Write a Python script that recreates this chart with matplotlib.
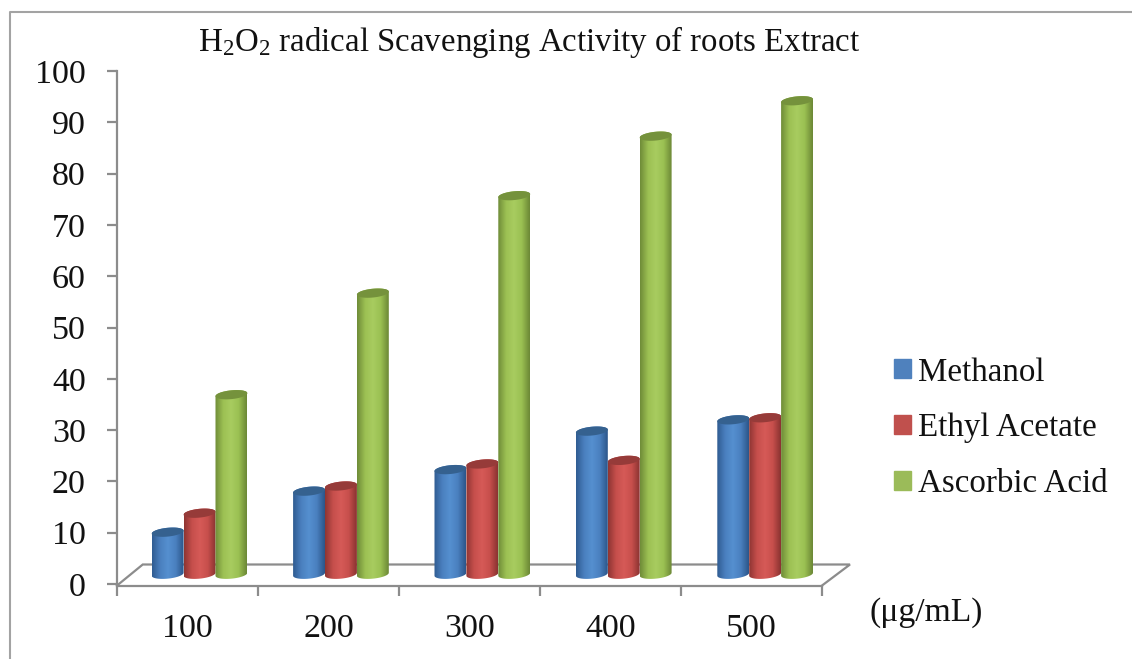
import numpy as np
import matplotlib
matplotlib.use("Agg")
import matplotlib.pyplot as plt
from matplotlib.lines import Line2D
from matplotlib.patches import PathPatch, Patch
from matplotlib.path import Path
from matplotlib.colors import LinearSegmentedColormap

categories = ["100", "200", "300", "400", "500"]
methanol = [8.2, 16.2, 20.4, 27.9, 30.1]
ethyl_acetate = [11.9, 17.2, 21.5, 22.2, 30.5]
ascorbic_acid = [35.0, 54.8, 73.8, 85.4, 92.3]
series_names = ["Methanol", "Ethyl Acetate", "Ascorbic Acid"]
y_ticks = list(range(0, 101, 10))

plt.rcParams["font.family"] = ["Liberation Serif", "DejaVu Sans"]
plt.rcParams["mathtext.fontset"] = "custom"
plt.rcParams["mathtext.rm"] = "Liberation Serif"
plt.rcParams["mathtext.default"] = "regular"

W, H = 1132, 659
fig = plt.figure(figsize=(W / 100, H / 100), dpi=100, facecolor="white")
ax = fig.add_axes([117 / W, 1 - 584 / H, 705 / W, 513 / H])
ax.set_xlim(0, 5)
ax.set_ylim(0, 100)
PX = 5 / 705      # data x per pixel
PY = 100 / 513    # data y per pixel

GREY = "#8c8c8c"
styles = [
    ("#4f81bd", ["#2f5c92", "#4a7fbe", "#5590d0", "#4a80bf", "#2c568a"], "#35618f"),
    ("#c0504d", ["#8f3533", "#c64f4c", "#d65a57", "#c74f4c", "#8a3331"], "#963b39"),
    ("#9bbb59", ["#6f8c38", "#9cc053", "#a8cc60", "#9ac052", "#6c8836"], "#75923c"),
]

# floor and axes
for s in ("top", "right"):
    ax.spines[s].set_visible(False)
for s in ("left", "bottom"):
    ax.spines[s].set_color(GREY)
    ax.spines[s].set_linewidth(1.6)
ax.spines["bottom"].set_position(("outward", 1.5))
ax.set_yticks(y_ticks)
ax.set_xticks(range(6))
ax.set_xticklabels([])
ax.set_xticks(np.arange(len(categories)) + 0.5, categories, minor=True)
ax.tick_params(axis="x", which="major", length=7.5, width=1.6, color=GREY)
ax.tick_params(axis="x", which="minor", length=0, pad=19.5, labelsize=24.5, labelcolor="#111111")
ax.tick_params(axis="y", length=7.5, width=1.6, color=GREY, pad=15, labelsize=24.5, labelcolor="#111111")

back_dx, back_dy = 28 * PX, 19.5 * PY
ax.plot([0, back_dx * 0.92, 5 + back_dx, 5], [-0.3, back_dy, back_dy, -0.3],
        color=GREY, lw=1.6, clip_on=False, zorder=1, solid_joinstyle="miter")

# bars
bar_w = 31.9 * PX
start = (151.7 - 117) * PX
a = bar_w / 2
b = 4.4 * PY
tilt = 1.5 * PY
base = 1.9
t = np.linspace(0, np.pi, 40)


def cylinder(cx, top):
    xs_bottom = cx - a * np.cos(t)
    ys_bottom = base - b * np.sin(t) - tilt * np.cos(t)
    xs_top = cx + a * np.cos(t)
    ys_top = top + b * np.sin(t) + tilt * np.cos(t)
    return np.r_[xs_bottom, xs_top], np.r_[ys_bottom, ys_top]


cols = [methanol, ethyl_acetate, ascorbic_acid]
z = 3
for i in range(len(categories)):
    for j, vals in enumerate(cols):
        left = i * (141.4 / 141) + start + j * bar_w
        cx = left + a
        top = base + vals[i]
        xs, ys = cylinder(cx, top)
        patch = PathPatch(Path(np.c_[xs, ys]), fc="none", ec="none", zorder=z)
        ax.add_patch(patch)
        cmap = LinearSegmentedColormap.from_list("c", styles[j][1])
        im = ax.imshow(np.linspace(0, 1, 64)[None, :], cmap=cmap, aspect="auto",
                       extent=(left, left + bar_w, 0, top + 3), zorder=z, interpolation="bilinear")
        im.set_clip_path(patch)
        th = np.linspace(0, 2 * np.pi, 60)
        ax.fill(cx + a * np.cos(th), top + b * np.sin(th) + tilt * np.cos(th),
                color=styles[j][2], lw=0, zorder=z + 0.5)
        z += 1
ax.set_xlim(0, 5)
ax.set_ylim(0, 100)

# title, unit, legend
fig.text(529 / W, 1 - 42 / H, r"H$_2$O$_2$ radical Scavenging Activity of roots Extract",
         fontsize=23.65, ha="center", va="center", color="#111111")
fig.text(926.5 / W, 1 - 613 / H, "(μg/mL)", fontsize=24.2, ha="center", va="center", color="#111111")
handles = [Patch(color=s[0]) for s in styles]
fig.legend(handles, series_names, loc="center left", bbox_to_anchor=(894 / W, 1 - 428 / H),
           frameon=False, fontsize=23.8, handlelength=0.51, handleheight=0.51, handletextpad=0.22,
           labelspacing=0.76, borderpad=0, borderaxespad=0, labelcolor="#111111")

# outer frame
fig.add_artist(Line2D([9.5 / W, 9.5 / W, 1], [0, 1 - 11.5 / H, 1 - 11.5 / H],
                      color="#a3a3a3", lw=1.5, transform=fig.transFigure))

fig.savefig("out.png", dpi=100)
